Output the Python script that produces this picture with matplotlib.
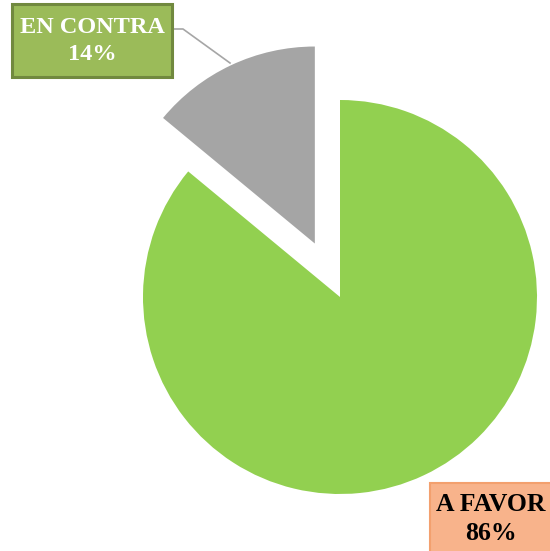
import matplotlib.pyplot as plt
from matplotlib.patches import Rectangle

# data
labels = ["A FAVOR", "EN CONTRA"]
values = [86, 14]
colors = ["#92D050", "#A5A5A5"]
explode_frac = [0, 0.30]

W, H = 550, 551
R = 197

fig = plt.figure(figsize=(5.5, 5.51), dpi=100)
ax = fig.add_axes([0, 0, 1, 1])

# pie explode is in data units, so scale the fraction by the radius
ax.pie(values, colors=colors, explode=[e * R for e in explode_frac],
       startangle=90, counterclock=False, center=(340, H - 297), radius=R,
       frame=True, wedgeprops=dict(linewidth=0))
ax.set_xlim(0, W)
ax.set_ylim(0, H)
ax.set_aspect("equal")
ax.axis("off")

# leader line for EN CONTRA
ax.plot([172, 183, 230], [H - 29, H - 29, H - 63], color="#A6A6A6",
        linewidth=1.2, zorder=3)

# label boxes
ax.add_patch(Rectangle((12, H - 77), 160, 73, facecolor="#9BBB59",
                       edgecolor="#71893F", linewidth=2.2, zorder=4))
ax.text(92, H - 41, f"{labels[1]}\n{values[1]}%", ha="center", va="center",
        color="white", fontsize=17.5, fontweight="bold", family="Liberation Serif",
        linespacing=1.4, zorder=5)

ax.add_patch(Rectangle((430, H - 553), 124, 70, facecolor="#F8B38B",
                       edgecolor="#F3A06E", linewidth=1.5, zorder=4))
ax.text(491, H - 519, f"{labels[0]}\n{values[0]}%", ha="center", va="center",
        color="black", fontsize=18.5, fontweight="bold", family="Liberation Serif",
        linespacing=1.35, zorder=5)

plt.savefig("out.png", dpi=100)
plt.close()
